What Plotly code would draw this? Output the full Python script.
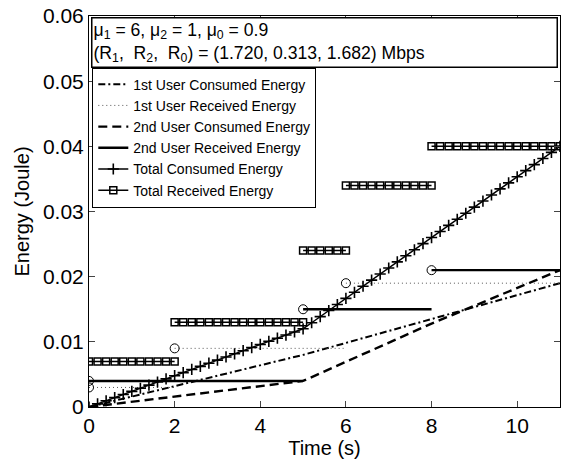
import plotly.graph_objects as go

# ---------------- data ----------------
# sample times (s) used by the original curves for their markers
t_samples = [0.0, 0.2, 0.4, 0.6, 0.8, 1.0, 1.2, 1.4, 1.6, 1.8, 2.0, 2.2, 2.4, 2.6,
             2.8, 3.0, 3.2, 3.4, 3.6, 3.8, 4.0, 4.2, 4.4, 4.6, 4.8, 5.0, 5.2, 5.4,
             5.6, 5.8, 6.0, 6.2, 6.4, 6.6, 6.8, 7.0, 7.2, 7.4, 7.6, 7.8, 8.0, 8.2,
             8.4, 8.6, 8.8, 9.0, 9.2, 9.4, 9.6, 9.8, 10.0, 10.2, 10.4, 10.6, 10.8, 11.0]

total_consumed = [0.0, 0.00048, 0.00096, 0.00144, 0.00192, 0.0024, 0.00288, 0.00336,
                  0.00384, 0.00432, 0.0048, 0.00528, 0.00576, 0.00624, 0.00672, 0.0072,
                  0.00768, 0.00816, 0.00864, 0.00912, 0.0096, 0.01008, 0.01056, 0.01104,
                  0.01152, 0.012, 0.01293, 0.01387, 0.0148, 0.01573, 0.01667, 0.0176,
                  0.01853, 0.01947, 0.0204, 0.02133, 0.02227, 0.0232, 0.02413, 0.02507,
                  0.026, 0.02693, 0.02787, 0.0288, 0.02973, 0.03067, 0.0316, 0.03253,
                  0.03347, 0.0344, 0.03533, 0.03627, 0.0372, 0.03813, 0.03907, 0.04]

# consumed energy break points
user1_consumed_t = [0, 5, 11]
user1_consumed_e = [0.0, 0.008, 0.019]
user2_consumed_t = [0, 5, 8, 11]
user2_consumed_e = [0.0, 0.004, 0.0128, 0.021]

# received energy: piecewise constant segments (start, end, level)
user1_recv_start = [0, 2, 6]
user1_recv_end = [2, 6, 11]
user1_recv_level = [0.003, 0.009, 0.019]

user2_recv_start = [0, 5, 8]
user2_recv_end = [5, 8, 11]
user2_recv_level = [0.004, 0.015, 0.021]

total_recv_start = [0, 2, 5, 6, 8]
total_recv_end = [2, 5, 6, 8, 11]
total_recv_level = [0.007, 0.013, 0.024, 0.034, 0.040]

x_ticks = [0, 2, 4, 6, 8, 10]
y_ticks = [0, 0.01, 0.02, 0.03, 0.04, 0.05, 0.06]
y_tick_text = ["0", "0.01", "0.02", "0.03", "0.04", "0.05", "0.06"]

FONT = "Liberation Sans, Arial, Helvetica, sans-serif"


def steps(starts, ends, levels):
    xs, ys = [], []
    for s, e, v in zip(starts, ends, levels):
        xs += [s, e, None]
        ys += [v, v, None]
    return xs, ys


def sampled_steps(starts, ends, levels):
    xs, ys = [], []
    for s, e, v in zip(starts, ends, levels):
        pts = [t for t in t_samples if s - 1e-9 <= t <= e + 1e-9]
        xs += pts + [None]
        ys += [v] * len(pts) + [None]
    return xs, ys


fig = go.Figure()

fig.add_trace(go.Scatter(
    x=user1_consumed_t, y=user1_consumed_e, mode="lines",
    name="1st User Consumed Energy",
    line=dict(color="black", width=2, dash="7px,3px,2px,3px")))

x1r, y1r = steps(user1_recv_start, user1_recv_end, user1_recv_level)
fig.add_trace(go.Scatter(
    x=x1r, y=y1r, mode="lines", name="1st User Received Energy",
    line=dict(color="#555555", width=1, dash="1px,3px")))

fig.add_trace(go.Scatter(
    x=user2_consumed_t, y=user2_consumed_e, mode="lines",
    name="2nd User Consumed Energy",
    line=dict(color="black", width=2.4, dash="9px,5px")))

x2r, y2r = steps(user2_recv_start, user2_recv_end, user2_recv_level)
fig.add_trace(go.Scatter(
    x=x2r, y=y2r, mode="lines", name="2nd User Received Energy",
    line=dict(color="black", width=2.4)))

fig.add_trace(go.Scatter(
    x=t_samples, y=total_consumed, mode="lines+markers",
    name="Total Consumed Energy",
    line=dict(color="black", width=1.5),
    marker=dict(symbol="cross-thin", size=8, color="black",
                line=dict(color="black", width=1.6))))

xtr, ytr = sampled_steps(total_recv_start, total_recv_end, total_recv_level)
fig.add_trace(go.Scatter(
    x=xtr, y=ytr, mode="lines+markers", name="Total Received Energy",
    line=dict(color="black", width=1.5),
    marker=dict(symbol="square-open", size=7, color="black",
                line=dict(color="black", width=1.5))))

# open circles at the start of each received-energy step
fig.add_trace(go.Scatter(
    x=user1_recv_start + user2_recv_start,
    y=user1_recv_level + user2_recv_level,
    mode="markers", showlegend=False,
    marker=dict(symbol="circle-open", size=9, color="black",
                line=dict(color="black", width=1))))

fig.add_annotation(
    xref="paper", yref="paper", x=0.004, y=0.998, xanchor="left", yanchor="top",
    align="left", showarrow=False,
    text=("μ<sub>1</sub> = 6, μ<sub>2</sub> = 1, μ<sub>0</sub> = 0.9<br>"
          "(R<sub>1</sub>,\u00a0 R<sub>2</sub>,\u00a0 R<sub>0</sub>) = (1.720, 0.313, 1.682) Mbps"),
    font=dict(family=FONT, size=17.6, color="black"),
    bgcolor="white", bordercolor="black", borderwidth=1.5, borderpad=1,
    width=462, height=46)

fig.update_layout(
    width=565, height=466,
    margin=dict(l=89, r=4, t=13, b=59),
    paper_bgcolor="white", plot_bgcolor="white",
    font=dict(family=FONT, size=20, color="black"),
    legend=dict(x=0.007, y=0.868, xanchor="left", yanchor="top",
                bgcolor="white", bordercolor="black", borderwidth=1,
                font=dict(family=FONT, size=14, color="black"),
                tracegroupgap=0, itemwidth=30),
    xaxis=dict(range=[0, 11], tickvals=x_ticks, ticks="inside", ticklen=6,
               showline=True, linecolor="black", linewidth=1, mirror="ticks",
               showgrid=False, zeroline=False,
               tickfont=dict(family=FONT, size=21),
               title=dict(text="Time (s)", font=dict(family=FONT, size=20), standoff=2)),
    yaxis=dict(range=[0, 0.06], tickvals=y_ticks, ticktext=y_tick_text,
               ticks="inside", ticklen=6,
               showline=True, linecolor="black", linewidth=1, mirror="ticks",
               showgrid=False, zeroline=False,
               tickfont=dict(family=FONT, size=21),
               title=dict(text="Energy (Joule)", font=dict(family=FONT, size=20), standoff=7)),
)

fig.write_html("out.html")
